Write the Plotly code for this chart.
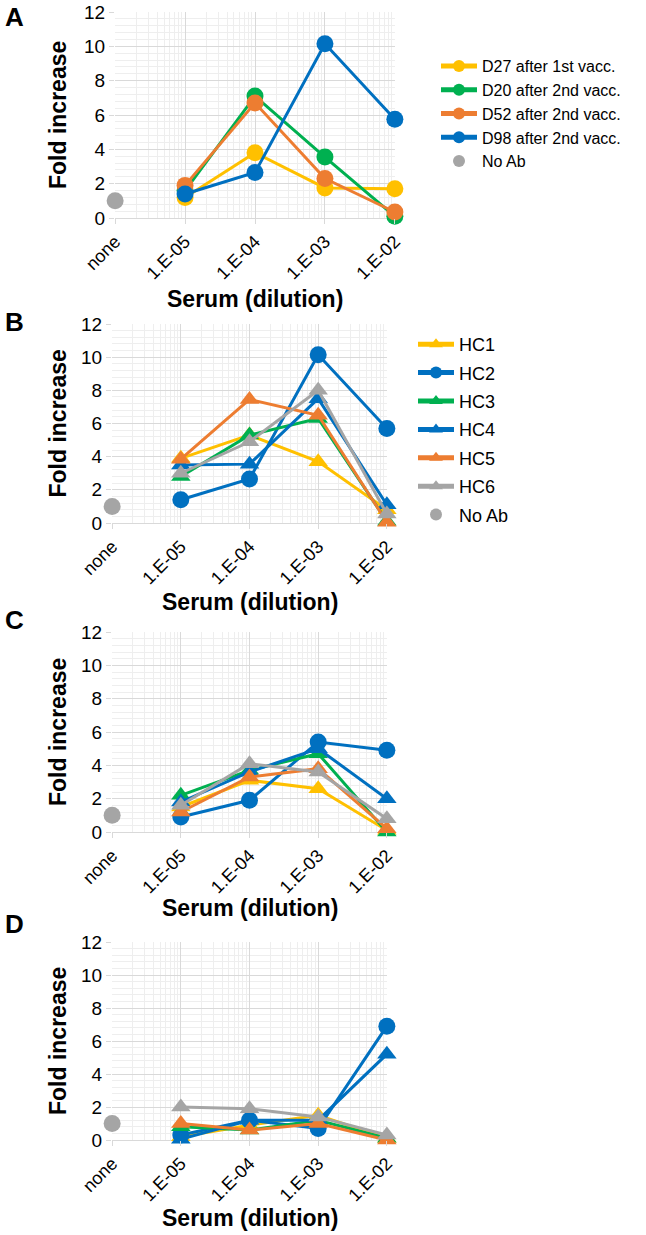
import plotly.graph_objects as go

# ---------------- data ----------------
DILUTIONS = [1e-5, 1e-4, 1e-3, 1e-2]
NONE_X = [1e-6]
NO_AB = [1.0]
TICK_VALS = [1e-6, 1e-5, 1e-4, 1e-3, 1e-2]
TICK_TEXT = ["none", "1.E-05", "1.E-04", "1.E-03", "1.E-02"]

A_NAMES = ["D27 after 1st vacc.", "D20 after 2nd vacc.", "D52 after 2nd vacc.", "D98 after 2nd vacc."]
A_D27 = [1.2, 3.8, 1.75, 1.7]
A_D20 = [1.6, 7.1, 3.55, 0.1]
A_D52 = [1.9, 6.7, 2.3, 0.35]
A_D98 = [1.4, 2.65, 10.15, 5.75]

HC_NAMES = ["HC1", "HC2", "HC3", "HC4", "HC5", "HC6"]
B_HC1 = [3.9, 5.3, 3.7, 0.8]
B_HC2 = [1.4, 2.65, 10.15, 5.7]
B_HC3 = [2.8, 5.3, 6.3, 0.1]
B_HC4 = [3.5, 3.55, 7.5, 1.1]
B_HC5 = [3.85, 7.45, 6.5, 0.05]
B_HC6 = [3.0, 4.9, 8.0, 0.55]

C_HC1 = [1.5, 3.1, 2.6, 0.1]
C_HC2 = [0.9, 1.9, 5.4, 4.9]
C_HC3 = [2.2, 3.7, 4.7, 0.0]
C_HC4 = [1.8, 3.6, 5.0, 2.0]
C_HC5 = [1.2, 3.3, 3.8, 0.2]
C_HC6 = [1.6, 4.1, 3.6, 0.8]

D_HC1 = [0.2, 0.9, 1.5, 0.1]
D_HC2 = [0.3, 1.2, 0.7, 6.9]
D_HC3 = [0.8, 0.6, 1.2, 0.1]
D_HC4 = [0.05, 1.2, 1.2, 5.2]
D_HC5 = [1.0, 0.6, 1.0, 0.0]
D_HC6 = [2.0, 1.9, 1.4, 0.3]

# ---------------- styles ----------------
YELLOW, GREEN, ORANGE, BLUE, GREY = "#FFC000", "#00B050", "#ED7D31", "#0070C0", "#A5A5A5"
A_COLORS = [YELLOW, GREEN, ORANGE, BLUE]
HC_COLORS = [YELLOW, BLUE, GREEN, BLUE, ORANGE, GREY]
HC_SYMBOLS = ["triangle-up", "circle", "triangle-up", "triangle-up", "triangle-up", "triangle-up"]
FONT = "Liberation Sans, Arial, sans-serif"

W, H = 646, 1235


def px(x):
    return x / W


def py(y):
    return 1 - y / H


# panel boxes in page pixels: (x_left, x_right, y_top, y_bottom)
PANELS = [
    (115, 395, 12, 218),
    (112, 387, 324, 523),
    (112, 387, 632, 832),
    (112, 387, 942, 1140),
]
TITLE_Y = [299, 602, 908, 1218]
LABEL_Y = [17, 322, 620, 924]
LETTERS = ["A", "B", "C", "D"]

fig = go.Figure()


def add_series(idx, name, yvals, color, symbol, legend, show):
    ax = "" if idx == 0 else str(idx + 1)
    fig.add_trace(go.Scatter(
        x=DILUTIONS, y=yvals, name=name, mode="lines+markers",
        line=dict(color=color, width=3),
        marker=dict(color=color, size=17, symbol=symbol),
        xaxis="x" + ax, yaxis="y" + ax, cliponaxis=False,
        legend=legend, showlegend=show, legendgroup=legend + name,
    ))


def add_noab(idx, legend, show):
    ax = "" if idx == 0 else str(idx + 1)
    fig.add_trace(go.Scatter(
        x=NONE_X, y=NO_AB, name="No Ab", mode="markers",
        marker=dict(color=GREY, size=17, symbol="circle"),
        xaxis="x" + ax, yaxis="y" + ax, cliponaxis=False,
        legend=legend, showlegend=show, legendgroup=legend + "noab",
    ))


for name, vals, col in zip(A_NAMES, [A_D27, A_D20, A_D52, A_D98], A_COLORS):
    add_series(0, name, vals, col, "circle", "legend", True)
add_noab(0, "legend", True)

panel_data = [
    [B_HC1, B_HC2, B_HC3, B_HC4, B_HC5, B_HC6],
    [C_HC1, C_HC2, C_HC3, C_HC4, C_HC5, C_HC6],
    [D_HC1, D_HC2, D_HC3, D_HC4, D_HC5, D_HC6],
]
for p, series in enumerate(panel_data, start=1):
    show = p == 1
    for name, vals, col, sym in zip(HC_NAMES, series, HC_COLORS, HC_SYMBOLS):
        add_series(p, name, vals, col, sym, "legend2", show)
    add_noab(p, "legend2", show)

layout = dict(
    width=W, height=H, margin=dict(l=0, r=0, t=0, b=0, autoexpand=False),
    paper_bgcolor="white", plot_bgcolor="white",
    font=dict(family=FONT, color="#000000"),
    legend=dict(x=px(436), y=py(49), xanchor="left", yanchor="top",
                font=dict(size=16, family=FONT), itemsizing="constant",
                itemwidth=36, tracegroupgap=0, bgcolor="rgba(0,0,0,0)"),
    legend2=dict(x=px(413), y=py(326), xanchor="left", yanchor="top",
                 font=dict(size=18, family=FONT), itemsizing="constant",
                 itemwidth=36, tracegroupgap=2, bgcolor="rgba(0,0,0,0)"),
)
annotations = []
for i, (xl, xr, yt, yb) in enumerate(PANELS):
    ax = "" if i == 0 else str(i + 1)
    layout["xaxis" + ax] = dict(
        type="log", range=[-6.002, -1.998], domain=[px(xl), px(xr)],
        anchor="y" + ax, tickmode="array", tickvals=TICK_VALS, ticktext=TICK_TEXT,
        tickangle=-45, tickfont=dict(size=18, family=FONT, color="#000"),
        showgrid=True, gridcolor="#D9D9D9", gridwidth=1,
        ticks="outside", ticklen=5, tickcolor="#D9D9D9",
        showline=False, zeroline=False, automargin=False,
        minor=dict(dtick="D1", showgrid=True, gridcolor="#EEEEEE", ticks=""),
    )
    layout["yaxis" + ax] = dict(
        range=[0, 12], domain=[py(yb), py(yt)], anchor="x" + ax,
        dtick=2, tickfont=dict(size=19, family=FONT, color="#000"),
        showgrid=True, gridcolor="#D9D9D9", gridwidth=1,
        ticks="outside", ticklen=5, tickcolor="#D9D9D9",
        showline=False, zeroline=True, zerolinecolor="#D9D9D9", zerolinewidth=1,
        automargin=False, ticklabeloverflow="allow",
        minor=dict(dtick=0.4, showgrid=True, gridcolor="#EEEEEE"),
    )
    annotations.append(dict(
        text="<b>Serum (dilution)</b>", x=px((xl + xr) / 2), y=py(TITLE_Y[i]),
        xref="paper", yref="paper", showarrow=False, xanchor="center", yanchor="middle",
        font=dict(size=23, family=FONT, color="#000"),
    ))
    annotations.append(dict(
        text="<b>Fold increase</b>", x=px(58), y=py((yt + yb) / 2),
        xref="paper", yref="paper", showarrow=False, textangle=-90,
        xanchor="center", yanchor="middle",
        font=dict(size=23, family=FONT, color="#000"),
    ))
    annotations.append(dict(
        text="<b>" + LETTERS[i] + "</b>", x=px(3), y=py(LABEL_Y[i]),
        xref="paper", yref="paper", showarrow=False, xanchor="left", yanchor="middle",
        font=dict(size=26, family=FONT, color="#000"),
    ))
layout["annotations"] = annotations
fig.update_layout(**layout)

fig.write_html(
    "out.html",
    config={"displayModeBar": False},
    post_script="document.body.style.margin='0';document.body.style.padding='0';"
                "document.body.style.overflow='hidden';",
)
